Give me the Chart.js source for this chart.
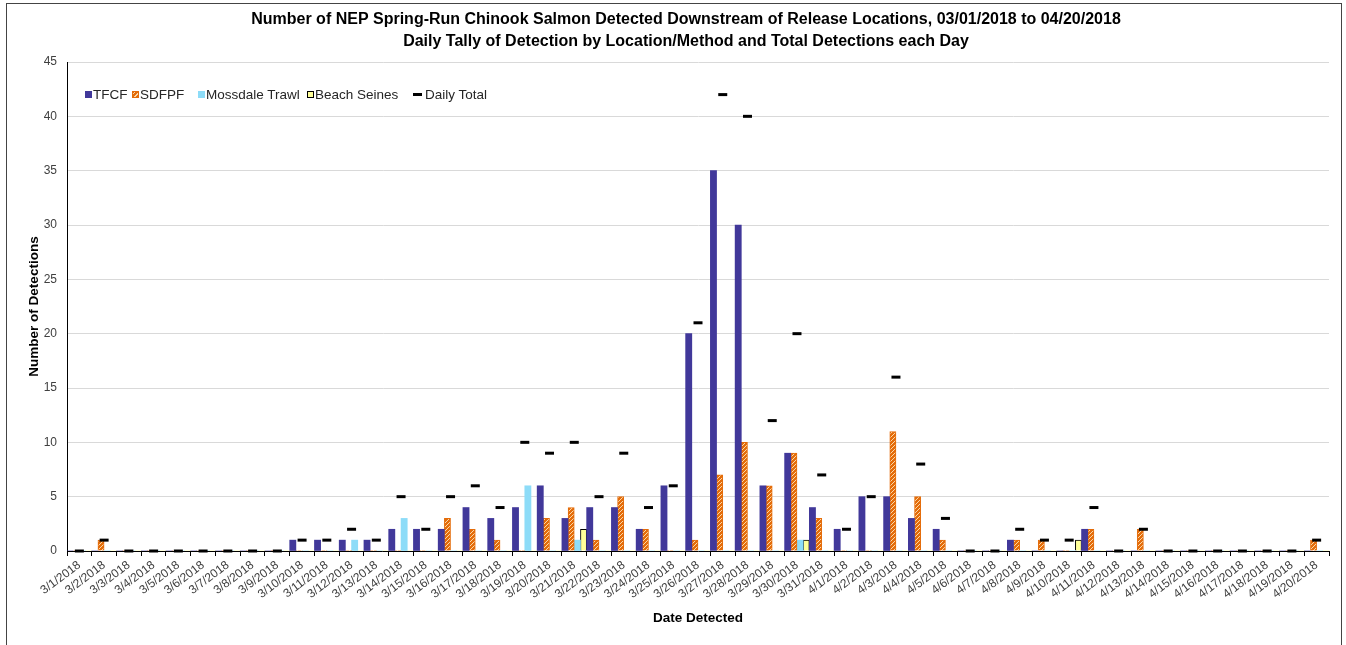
<!DOCTYPE html>
<html>
<head>
<meta charset="utf-8">
<script src="https://cdn.jsdelivr.net/npm/chart.js@4.4.0/dist/chart.umd.min.js"></script>
<style>
  html, body { margin: 0; padding: 0; background: #fff; overflow: hidden; }
  #wrap { position: absolute; left: 0; top: 0; width: 1346px; height: 645px; }
  #frame { position: absolute; left: 6px; top: 3px; width: 1336px; height: 670px; border: 1px solid #444; box-sizing: border-box; pointer-events: none; }
  #legend { position: absolute; left: 0; top: 0; font: 13.5px "Liberation Sans", Arial, sans-serif; color: #262626; }
  .item { position: absolute; top: 87px; line-height: 16px; white-space: nowrap; }
  .sw { display: inline-block; width: 7px; height: 7px; margin-right: 1px; vertical-align: middle; position: relative; top: -1px; box-sizing: border-box; }
  .dash { display: inline-block; width: 9px; height: 3px; background: #000; margin-right: 3px; vertical-align: middle; position: relative; top: -1px; }
</style>
</head>
<body>
<div id="wrap"><canvas id="chart"></canvas></div>
<div id="frame"></div>
<div id="legend"></div>
<script>
// tick labels
const dates = [
  '3/1/2018','3/2/2018','3/3/2018','3/4/2018','3/5/2018','3/6/2018','3/7/2018','3/8/2018','3/9/2018',
  '3/10/2018','3/11/2018','3/12/2018','3/13/2018','3/14/2018','3/15/2018','3/16/2018','3/17/2018',
  '3/18/2018','3/19/2018','3/20/2018','3/21/2018','3/22/2018','3/23/2018','3/24/2018','3/25/2018',
  '3/26/2018','3/27/2018','3/28/2018','3/29/2018','3/30/2018','3/31/2018','4/1/2018','4/2/2018',
  '4/3/2018','4/4/2018','4/5/2018','4/6/2018','4/7/2018','4/8/2018','4/9/2018','4/10/2018',
  '4/11/2018','4/12/2018','4/13/2018','4/14/2018','4/15/2018','4/16/2018','4/17/2018','4/18/2018',
  '4/19/2018','4/20/2018'
];

// detections per day
const tfcf = [
  0,0,0,0,0,0,0,0,0,
  1,1,1,1,2,2,2,4,3,4,6,3,4,4,2,6,20,35,30,6,9,4,
  2,5,5,3,2,0,0,1,0,0,2,0,0,0,0,0,0,0,0,0
];
const sdfpf = [
  0,1,0,0,0,0,0,0,0,
  0,0,0,0,0,0,3,2,1,0,3,4,1,5,2,0,1,7,10,6,9,3,
  0,0,11,5,1,0,0,1,1,0,2,0,2,0,0,0,0,0,0,1
];
const mossdale = [
  0,0,0,0,0,0,0,0,0,
  0,0,1,0,3,0,0,0,0,6,0,1,0,0,0,0,0,0,0,0,1,0,
  0,0,0,0,0,0,0,0,0,0,0,0,0,0,0,0,0,0,0,0
];
const beach = [
  0,0,0,0,0,0,0,0,0,
  0,0,0,0,0,0,0,0,0,0,0,2,0,0,0,0,0,0,0,0,1,0,
  0,0,0,0,0,0,0,0,0,1,0,0,0,0,0,0,0,0,0,0
];
const dailyTotal = [
  0,1,0,0,0,0,0,0,0,
  1,1,2,1,5,2,5,6,4,10,9,10,5,9,4,6,21,42,40,12,20,7,
  2,5,16,8,3,0,0,2,1,1,4,0,2,0,0,0,0,0,0,1
];

const yTicks = [0, 5, 10, 15, 20, 25, 30, 35, 40, 45];

const FONT = '"Liberation Sans", Arial, sans-serif';
const BLUE = '#41389a';
const ORANGE = '#e46c0a';
const LIGHTBLUE = '#8ddcf8';
const YELLOW = '#ffff99';

function hatchPattern() {
  const c = document.createElement('canvas');
  c.width = 4; c.height = 4;
  const g = c.getContext('2d');
  g.fillStyle = ORANGE;
  g.fillRect(0, 0, 4, 4);
  g.strokeStyle = '#fbd9a8';
  g.lineWidth = 1;
  g.beginPath();
  g.moveTo(-1, 1); g.lineTo(1, -1);
  g.moveTo(0, 4); g.lineTo(4, 0);
  g.moveTo(3, 5); g.lineTo(5, 3);
  g.stroke();
  return g.createPattern(c, 'repeat');
}

const bw = (w) => (ctx) => (ctx.raw > 0 ? w : 0);

const chart = new Chart(document.getElementById('chart'), {
  type: 'bar',
  data: {
    labels: dates,
    datasets: [
      { label: 'TFCF', data: tfcf, backgroundColor: BLUE, order: 1 },
      { label: 'SDFPF', data: sdfpf, backgroundColor: hatchPattern(), borderColor: ORANGE, borderWidth: bw(1), order: 1 },
      { label: 'Mossdale Trawl', data: mossdale, backgroundColor: LIGHTBLUE, order: 1 },
      { label: 'Beach Seines', data: beach, backgroundColor: YELLOW, borderColor: '#000', borderWidth: bw(1), order: 1 },
      {
        type: 'line', label: 'Daily Total', data: dailyTotal, order: 0,
        showLine: false, pointStyle: 'line', pointRadius: 4.5,
        pointBorderWidth: 3, pointBorderColor: '#000', pointBackgroundColor: '#000', clip: false
      }
    ]
  },
  options: {
    responsive: true,
    maintainAspectRatio: false,
    animation: false,
    events: [],
    layout: { padding: { left: 26, right: 0, top: 0, bottom: 19 } },
    datasets: { bar: { categoryPercentage: 1.0, barPercentage: 1.0 } },
    plugins: {
      legend: { display: false },
      tooltip: { enabled: false },
      title: {
        display: true,
        text: ['Number of NEP Spring-Run Chinook Salmon Detected Downstream of Release Locations, 03/01/2018 to 04/20/2018',
               'Daily Tally of Detection by Location/Method and Total Detections each Day'],
        color: '#000',
        font: { family: FONT, size: 16, weight: 'bold', lineHeight: '22px' },
        padding: { top: 9, bottom: 9 }
      }
    },
    scales: {
      x: {
        grid: { display: true, drawOnChartArea: false, drawTicks: true, tickLength: 5, color: '#000', offset: true },
        border: { display: true, color: '#000', width: 1 },
        ticks: { autoSkip: false, maxRotation: 37, minRotation: 37, padding: 2, color: '#404040', font: { family: FONT, size: 12 } },
        title: { display: true, text: 'Date Detected', color: '#000', font: { family: FONT, size: 13.5, weight: 'bold' }, padding: 0 },
        afterFit: (s) => { s.height = 75; }
      },
      y: {
        min: 0, max: 45,
        afterBuildTicks: (s) => { s.ticks = yTicks.map(v => ({ value: v })); },
        grid: { color: '#d9d9d9', drawTicks: false },
        border: { display: true, color: '#000', width: 1 },
        ticks: { padding: 10, color: '#404040', font: { family: FONT, size: 12 } },
        title: { display: true, text: 'Number of Detections', color: '#000', font: { family: FONT, size: 13.5, weight: 'bold' }, padding: 0 },
        afterFit: (s) => { s.width = 41; }
      },
      yR: {
        position: 'right',
        grid: { display: false },
        border: { display: false },
        ticks: { display: false },
        afterFit: (s) => { s.width = 17; }
      }
    }
  }
});

// legend drawn over the plot, like the original
const legendItems = [
  { name: 'TFCF', x: 85, style: 'background:' + BLUE },
  { name: 'SDFPF', x: 132, style: 'background:repeating-linear-gradient(-45deg,' + ORANGE + ' 0 2px,#fbd9a8 2px 3px);border:1px solid ' + ORANGE },
  { name: 'Mossdale Trawl', x: 198, style: 'background:' + LIGHTBLUE },
  { name: 'Beach Seines', x: 307, style: 'background:' + YELLOW + ';border:1px solid #000' },
  { name: 'Daily Total', x: 413, dash: true }
];
const legend = document.getElementById('legend');
legendItems.forEach(it => {
  const d = document.createElement('div');
  d.className = 'item';
  d.style.left = it.x + 'px';
  const s = document.createElement('span');
  if (it.dash) {
    s.className = 'dash';
  } else {
    s.className = 'sw';
    s.style.cssText = it.style;
  }
  d.appendChild(s);
  d.appendChild(document.createTextNode(it.name));
  legend.appendChild(d);
});
</script>
</body>
</html>
